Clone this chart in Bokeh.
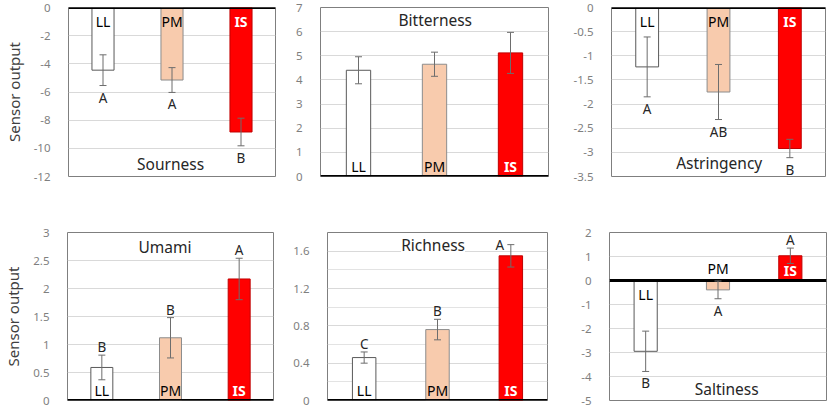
import numpy as np
from bokeh.plotting import figure
from bokeh.models import Range1d, FixedTicker, Span, Whisker, TeeHead, ColumnDataSource, Label
from bokeh.layouts import column, row
from bokeh.embed import file_html
from bokeh.resources import INLINE
from bokeh.core.properties import value

# ---------------- data ----------------
categories = ["LL", "PM", "IS"]

sourness = [-4.45, -5.15, -8.84]
sourness_err = [1.09, 0.88, 0.98]
sourness_letters = ["A", "A", "B"]

bitterness = [4.40, 4.65, 5.12]
bitterness_err = [0.56, 0.50, 0.85]
bitterness_letters = ["", "", ""]

astringency = [-1.23, -1.75, -2.92]
astringency_err = [0.62, 0.57, 0.19]
astringency_letters = ["A", "AB", "B"]

umami = [0.59, 1.12, 2.17]
umami_err = [0.22, 0.36, 0.37]
umami_letters = ["B", "B", "A"]

richness = [0.46, 0.76, 1.55]
richness_err = [0.06, 0.11, 0.12]
richness_letters = ["C", "B", "A"]

saltiness = [-2.95, -0.39, 1.03]
saltiness_err = [0.84, 0.37, 0.32]
saltiness_letters = ["B", "A", "A"]

FONT = "Noto Sans"
fills = ["#FFFFFF", "#F8CBAD", "#FF0000"]
outlines = ["#595959", "#8c8c8c", "#C00000"]
label_colors = ["#000000", "#000000", "#FFFFFF"]
label_styles = ["normal", "normal", "bold"]


def panel(name, vals, errs, letters, ymin, ymax, step, label_step, geom, title_pos,
          ylabel=False, title_bg=False):
    width, height, bl, br, bt, bb = geom
    p = figure(width=width, height=height, output_backend="svg", toolbar_location=None,
               x_range=Range1d(0, len(categories)), y_range=Range1d(ymin, ymax),
               min_border_left=bl, min_border_right=br, min_border_top=bt, min_border_bottom=bb,
               background_fill_color="white", border_fill_color="white")
    p.xaxis.visible = False
    p.xgrid.visible = False
    p.outline_line_color = "#7f7f7f"
    p.outline_line_width = 1

    all_ticks = [float(t) for t in np.round(np.arange(ymin, ymax + step / 2, step), 6)]
    major = [t for t in all_ticks if abs(round(t / label_step) * label_step - t) < 1e-6]
    minor = [t for t in all_ticks if t not in major]
    p.yaxis.ticker = FixedTicker(ticks=major, minor_ticks=minor)
    p.yaxis.major_label_overrides = {t: f"{t:g}" for t in major}
    p.yaxis.axis_line_color = None
    p.yaxis.major_tick_line_color = None
    p.yaxis.minor_tick_line_color = None
    p.yaxis.major_label_standoff = 12
    p.yaxis.major_label_text_color = "#7f7f7f"
    p.yaxis.major_label_text_font = FONT
    p.yaxis.major_label_text_font_size = "11.5px"
    p.ygrid.grid_line_color = "#d9d9d9"
    p.ygrid.minor_grid_line_color = "#e3e3e3" if minor else None
    if ylabel:
        p.yaxis.axis_label = "Sensor output"
        p.yaxis.axis_label_text_font = FONT
        p.yaxis.axis_label_text_font_size = "15px"
        p.yaxis.axis_label_text_font_style = "normal"
        p.yaxis.axis_label_text_color = "#404040"
        p.yaxis.axis_label_standoff = 7

    xs = [i + 0.5 for i in range(len(categories))]
    upper = [v + e for v, e in zip(vals, errs)]
    lower = [v - e for v, e in zip(vals, errs)]
    span = ymax - ymin
    frame_h = height - bt - bb
    px_per_unit = frame_h / span

    # category labels inside bars, at the zero line
    lab_y, lab_base, lab_off = [], [], []
    for v in vals:
        small = abs(v) / span < 0.08
        neg = v < 0
        if neg != small:  # text hangs below zero line
            lab_base.append("top"); lab_off.append(4)
        else:
            lab_base.append("bottom"); lab_off.append(-1 if not small else -3)
        lab_y.append(0)

    # significance letters
    let_x_off, let_y, let_base, let_off = [], [], [], []
    for v, u, l in zip(vals, upper, lower):
        if v < 0:
            let_y.append(l); let_base.append("top"); let_off.append(3); let_x_off.append(0)
        else:
            if u + 15 / px_per_unit > ymax:
                let_y.append(u); let_base.append("middle"); let_off.append(0); let_x_off.append(-11)
            else:
                let_y.append(u); let_base.append("bottom"); let_off.append(1); let_x_off.append(0)

    src = ColumnDataSource(dict(x=xs, top=vals, fill=fills, line=outlines, upper=upper, lower=lower,
                                cat=categories, lab_y=lab_y, lab_base=lab_base, lab_off=lab_off,
                                lab_color=label_colors, lab_style=label_styles,
                                letter=letters, let_y=let_y, let_base=let_base, let_off=let_off,
                                let_x_off=let_x_off))

    p.vbar(x="x", top="top", bottom=0, width=0.32, source=src, fill_color="fill",
           line_color="line", line_width=1)

    p.add_layout(Whisker(base="x", upper="upper", lower="lower", source=src, dimension="height",
                         line_color="#6d6d6d", line_width=1, level="overlay",
                         upper_head=TeeHead(size=7, line_color="#6d6d6d", line_width=1),
                         lower_head=TeeHead(size=7, line_color="#6d6d6d", line_width=1)))

    p.add_layout(Span(location=0, dimension="width", line_color="black", line_width=3))

    p.text(x="x", y="lab_y", text="cat", source=src, text_align="center",
           text_baseline="lab_base", y_offset="lab_off", text_color="lab_color",
           text_font=value(FONT), text_font_size="14px", text_font_style="lab_style")

    p.text(x="x", y="let_y", text="letter", source=src, text_align="center",
           text_baseline="let_base", y_offset="let_off", x_offset="let_x_off",
           text_color="#262626", text_font=value(FONT), text_font_size="13.5px")

    tx, ty = title_pos
    p.add_layout(Label(x=tx, y=ty, text=name, text_align="center", text_baseline="middle",
                       text_font=FONT, text_font_size="15.5px", text_color="#262626",
                       background_fill_color="white" if title_bg else None,
                       level="overlay"))
    return p


f1 = panel("Sourness", sourness, sourness_err, sourness_letters, -12, 0, 2, 2,
           (290, 200, 58, 15, 5, 19), (1.48, -11.1), ylabel=True)
f2 = panel("Bitterness", bitterness, bitterness_err, bitterness_letters, 0, 7, 1, 1,
           (280, 200, 30, 22, 7, 21), (1.51, 6.47))
f3 = panel("Astringency", astringency, astringency_err, astringency_letters, -3.5, 0, 0.5, 0.5,
           (257, 200, 38, 2, 5, 24), (1.51, -3.23))
f4 = panel("Umami", umami, umami_err, umami_letters, 0, 3, 0.5, 0.5,
           (290, 207, 56, 17, 32, 5), (1.42, 2.75), ylabel=True)
f5 = panel("Richness", richness, richness_err, richness_letters, 0, 1.8, 0.2, 0.4,
           (280, 207, 36, 23, 32, 5), (1.44, 1.67), title_bg=True)
f6 = panel("Saltiness", saltiness, saltiness_err, saltiness_letters, -5, 2, 1, 1,
           (257, 207, 39, 1, 27, 7), (1.62, -4.51))

layout = column(row(f1, f2, f3, spacing=0), row(f4, f5, f6, spacing=0), spacing=0)

open("out.html", "w").write(file_html(layout, INLINE))
